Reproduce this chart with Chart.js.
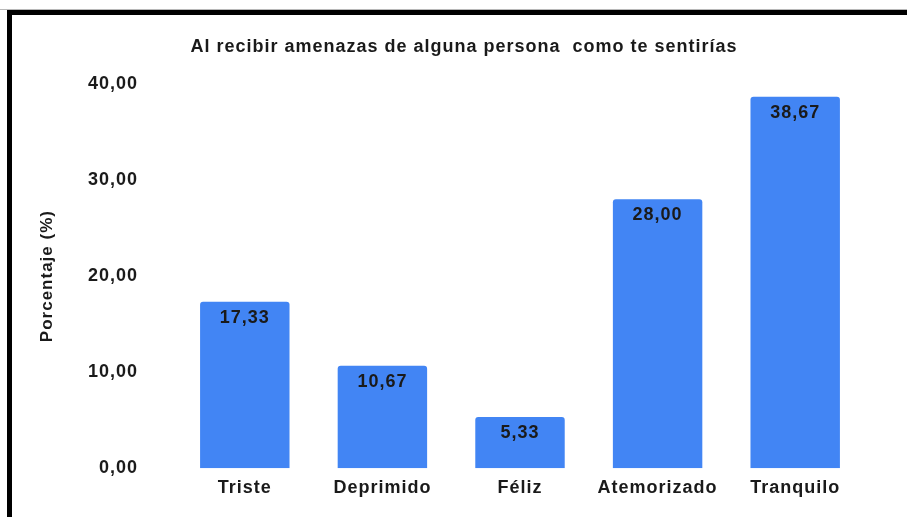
<!DOCTYPE html>
<html>
<head>
<meta charset="utf-8">
<script src="https://cdn.jsdelivr.net/npm/chart.js@4"></script>
<style>
  body { margin: 0; background: #fff; }
  #wrap { position: relative; width: 907px; height: 517px; }
  #grey { position: absolute; left: 0; top: 9px; width: 907px; height: 1px; background: #b8b8b8; }
  #frame { position: absolute; left: 7px; top: 10px; right: 0; bottom: 0;
           border-top: 5px solid #000; border-left: 5px solid #000; }
  canvas { position: absolute; left: 0; top: 0; }
</style>
</head>
<body>
<div id="wrap">
  <canvas id="chart" width="907" height="517"></canvas>
  <div id="grey"></div>
  <div id="frame"></div>
</div>
<script>
const titleText = 'Al recibir amenazas de alguna persona  como te sentirías';
const categories = ['Triste', 'Deprimido', 'Féliz', 'Atemorizado', 'Tranquilo'];
const values = [17.33, 10.67, 5.33, 28.00, 38.67];
const yTicks = [0, 10, 20, 30, 40];

const fontFam = '"Liberation Sans", Arial, sans-serif';
const txt = '#1a1a1a';
const spacing = '1px';

function fmt(v) {
  return v.toFixed(2).replace('.', ',');
}

// text in the reference is a bit spread out
const spacingPlugin = {
  id: 'spacing',
  beforeInit(chart) { chart.ctx.letterSpacing = spacing; },
  beforeDraw(chart) { chart.ctx.letterSpacing = spacing; }
};

// value labels inside the top of each bar + chart title
const labelsPlugin = {
  id: 'labels',
  afterDatasetsDraw(chart) {
    const ctx = chart.ctx;
    const meta = chart.getDatasetMeta(0);
    ctx.save();
    ctx.font = 'bold 18px ' + fontFam;
    ctx.fillStyle = txt;
    ctx.textAlign = 'center';
    ctx.textBaseline = 'middle';
    meta.data.forEach((bar, i) => {
      ctx.fillText(fmt(values[i]), bar.x, bar.y + 16);
    });
    ctx.restore();
  },
  afterDraw(chart) {
    const ctx = chart.ctx;
    ctx.save();
    ctx.font = 'bold 18px ' + fontFam;
    ctx.fillStyle = txt;
    ctx.textAlign = 'center';
    ctx.textBaseline = 'middle';
    ctx.fillText(titleText, 464, 47);
    ctx.restore();
  }
};

new Chart(document.getElementById('chart'), {
  type: 'bar',
  data: {
    labels: categories,
    datasets: [{
      data: values,
      backgroundColor: '#4285f4',
      borderRadius: { topLeft: 3, topRight: 3 },
      borderSkipped: 'bottom',
      barPercentage: 0.65,
      categoryPercentage: 1
    }]
  },
  options: {
    responsive: false,
    animation: false,
    layout: { padding: { left: 0, right: 43, top: 84, bottom: 0 } },
    plugins: {
      legend: { display: false },
      tooltip: { enabled: false },
      title: { display: false }
    },
    scales: {
      x: {
        grid: { display: false, drawTicks: false },
        border: { display: false },
        ticks: { color: txt, font: { family: fontFam, size: 18, weight: 'bold' }, padding: 9 },
        afterFit(scale) { scale.height = 45; }
      },
      y: {
        min: 0,
        max: 40,
        afterBuildTicks(scale) { scale.ticks = yTicks.map(v => ({ value: v })); },
        grid: { display: false, drawTicks: false },
        border: { display: false },
        ticks: {
          color: txt,
          font: { family: fontFam, size: 18, weight: 'bold' },
          padding: 38,
          callback: v => fmt(v)
        },
        title: {
          display: true,
          text: 'Porcentaje (%)',
          color: txt,
          font: { family: fontFam, size: 17, weight: 'bold' },
          padding: { top: 37, bottom: 0 }
        },
        afterFit(scale) { scale.width = 176; }
      }
    }
  },
  plugins: [spacingPlugin, labelsPlugin]
});
</script>
</body>
</html>
